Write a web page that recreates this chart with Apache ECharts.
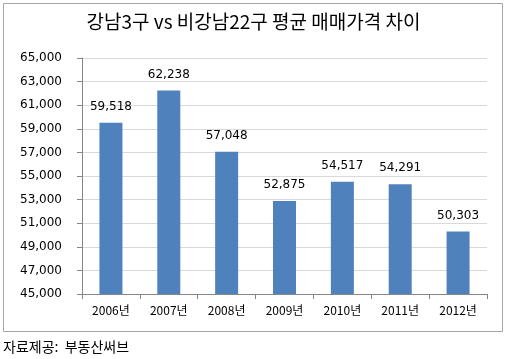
<!DOCTYPE html>
<html><head><meta charset="utf-8">
<script src="https://cdn.jsdelivr.net/npm/echarts@6/dist/echarts.min.js"></script>
<style>html,body{margin:0;padding:0;background:#fff}#c{width:507px;height:359px}</style>
</head><body><div id="c"></div>
<script>
const categories = ['2006년','2007년','2008년','2009년','2010년','2011년','2012년'];
const values = [59518, 62238, 57048, 52875, 54517, 54291, 50303];
const titleText = '강남3구 vs 비강남22구 평균 매매가격 차이';
const sourceText = '자료제공:  부동산써브';
const FONT = '"Noto Sans CJK KR", "Noto Sans", sans-serif';
const NUMFONT = '"DejaVu Sans", sans-serif';
const chart = echarts.init(document.getElementById('c'));
chart.setOption({
  animation: false,
  backgroundColor: '#fff',
  title: {
    text: titleText, left: 'center', top: 7,
    textStyle: {fontFamily: FONT, fontSize: 19, fontWeight: 'normal', color: '#000'}
  },
  graphic: [
    {type: 'rect', shape: {x: 3.5, y: 3.5, width: 499, height: 328}, style: {fill: 'none', stroke: '#a6a6a6', lineWidth: 1}, z: -1},
    {type: 'text', left: 3, top: 340, style: {text: sourceText, font: '14px ' + FONT, fill: '#000'}}
  ],
  grid: {left: 82, right: 20, top: 58, bottom: 65},
  xAxis: {
    type: 'category', data: categories,
    axisLine: {lineStyle: {color: '#868686'}},
    axisTick: {show: true, alignWithLabel: false, length: 5, lineStyle: {color: '#868686'}},
    axisLabel: {color: '#000', fontFamily: FONT, fontSize: 12, margin: 10}
  },
  yAxis: {
    type: 'value', min: 45000, max: 65000, interval: 2000,
    axisLine: {show: true, lineStyle: {color: '#868686'}},
    axisTick: {show: true, length: 5, lineStyle: {color: '#868686'}},
    splitLine: {lineStyle: {color: '#d9d9d9'}},
    axisLabel: {color: '#000', fontFamily: NUMFONT, fontSize: 12, margin: 20,
      formatter: v => v.toLocaleString('en-US')}
  },
  series: [{
    type: 'bar', data: values, barWidth: 23,
    itemStyle: {color: '#4f81bd'},
    label: {show: true, position: 'top', distance: 10, color: '#000', fontFamily: NUMFONT, fontSize: 12,
      formatter: p => p.value.toLocaleString('en-US')}
  }]
});
</script></body></html>
